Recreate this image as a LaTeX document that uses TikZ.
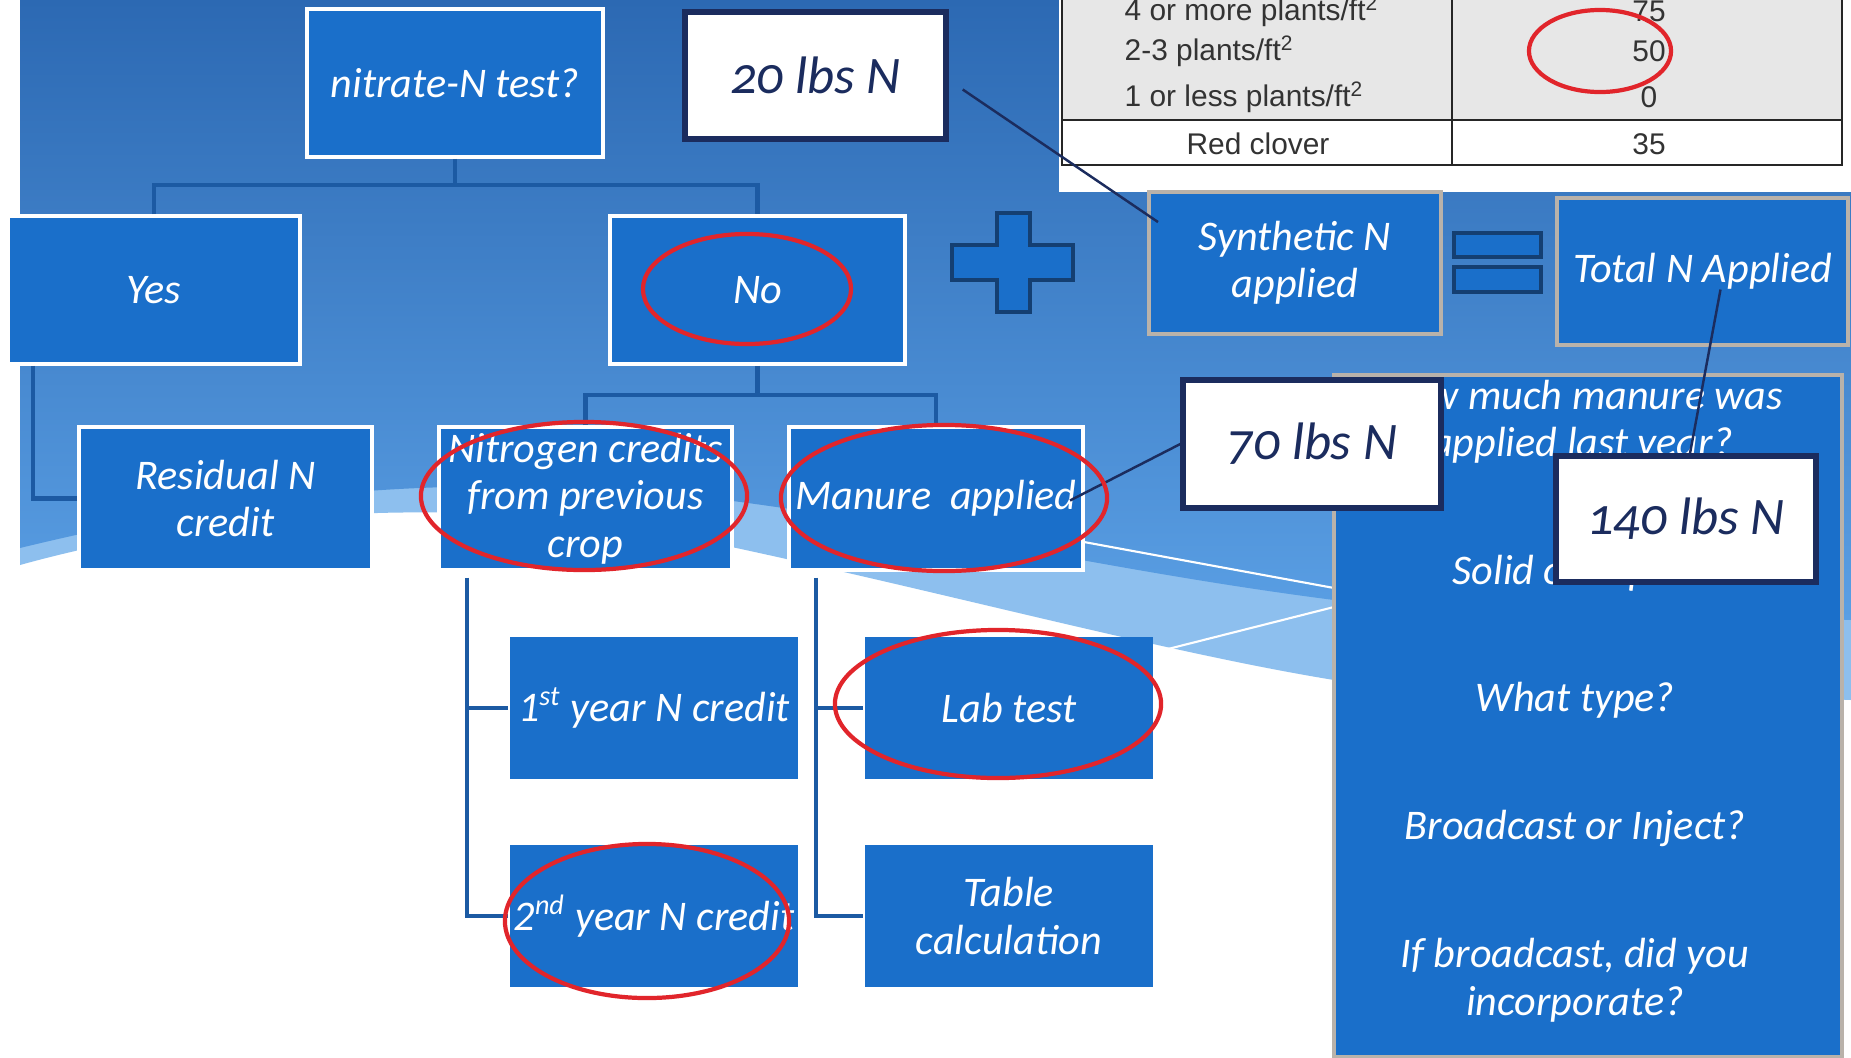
\documentclass[tikz,border=0pt]{standalone}
\usepackage{fontspec}
\setmainfont{Carlito}
\newfontfamily\lbsfont{Carlito}[Numbers=OldStyle]
\newfontfamily\tabfont{Liberation Sans}
\usetikzlibrary{calc}
\definecolor{skytop}{HTML}{2C69B3}
\definecolor{skybot}{HTML}{5A9FE4}
\definecolor{swoosh}{HTML}{8DBFEE}
\definecolor{boxblue}{HTML}{1A6FCA}
\definecolor{linkblue}{HTML}{1C5AA3}
\definecolor{navy}{HTML}{1B2C5E}
\definecolor{ringred}{HTML}{E1252B}
\definecolor{taupe}{HTML}{B9B2AA}
\definecolor{tabgray}{HTML}{E7E7E7}

\begin{document}
\begin{tikzpicture}[x=0.01cm, y=-0.01cm,
    box/.style={rectangle, fill=boxblue, draw=white, line width=1.1pt, text=white, align=center, inner sep=0pt,
      font=\fontsize{12}{13.5}\selectfont\itshape},
    plain/.style={box, draw=none},
    greybox/.style={box, draw=taupe},
    lbs/.style={rectangle, fill=white, draw=navy, line width=1.5pt, text=navy, inner sep=0pt,
      font=\lbsfont\fontsize{15}{17}\selectfont\itshape},
    link/.style={draw=linkblue, line width=1.2pt},
    pointer/.style={draw=navy, line width=0.7pt},
    ring/.style={draw=ringred, line width=1.2pt},
    ask/.style={text=white, align=center, font=\fontsize{12}{13.5}\selectfont\itshape},
    cell/.style={text=black!80, inner sep=0pt, font=\tabfont\fontsize{8.5}{10}\selectfont},
    sign/.style={fill=boxblue, draw=linkblue!70!black, line width=1pt}]

    \useasboundingbox (0,0) rectangle (1851,1057);

    % slide background
    \fill[white] (0,0) rectangle (1851,1057);
    \fill[swoosh] (20,0) -- (1851,0) -- (1851,700) -- (1334,680) .. controls (1150,650) and (900,580) .. (650,530)
        .. controls (430,495) and (200,515) .. (20,565) -- cycle;
    \shade[top color=skytop, bottom color=skybot] (20,0) -- (1851,0) -- (1851,620) -- (1334,600)
        .. controls (1100,570) and (900,520) .. (700,497) .. controls (450,472) and (250,492) .. (20,548) -- cycle;
    \draw[white, line width=0.6pt] (1084,542) -- (1334,588);
    \draw[white, line width=0.6pt] (1164,650) -- (1334,607);

    % clover table
    \fill[white] (1059,0) rectangle (1851,192);
    \fill[tabgray] (1062,0) rectangle (1842,120);
    \draw[black!85, line width=0.7pt] (1062,0) -- (1062,165) -- (1842,165) -- (1842,0);
    \draw[black!85, line width=0.7pt] (1062,120) -- (1842,120);
    \draw[black!85, line width=0.7pt] (1452,0) -- (1452,165);
    \node[cell, anchor=west] (r1) at (1124,11) {4 or more plants/ft\textsuperscript{2}};
    \node[cell, anchor=west] (r2) at (1124,51) {2-3 plants/ft\textsuperscript{2}};
    \node[cell, anchor=west] (r3) at (1124,97) {1 or less plants/ft\textsuperscript{2}};
    \node[cell] (v1) at (1649,11) {75};
    \node[cell] (v2) at (1649,51) {50};
    \node[cell] (v3) at (1649,97) {0};
    \node[cell] (r4) at (1258,144) {Red clover};
    \node[cell] (v4) at (1649,144) {35};

    % decision tree
    \node[box, minimum width=2.96cm, minimum height=1.48cm] (q) at (455,83) {nitrate-N test?};
    \node[box, minimum width=2.92cm, minimum height=1.48cm] (yes) at (154,290) {Yes};
    \node[box, minimum width=2.95cm, minimum height=1.48cm] (no) at (757.5,290) {No};
    \node[box, minimum width=2.93cm, minimum height=1.43cm] (resid) at (225.5,498.5) {Residual N\\credit};
    \node[box, minimum width=2.93cm, minimum height=1.43cm] (prev) at (585.5,498.5) {Nitrogen credits\\from previous\\crop};
    \node[box, minimum width=2.94cm, minimum height=1.43cm] (manure) at (936,498.5) {Manure~ applied};
    \node[plain, minimum width=2.88cm, minimum height=1.42cm] (yr1) at (654,708) {1\textsuperscript{st} year N credit};
    \node[plain, minimum width=2.88cm, minimum height=1.42cm] (lab) at (1009,708) {Lab test};
    \node[plain, minimum width=2.88cm, minimum height=1.42cm] (yr2) at (654,916) {2\textsuperscript{nd} year N credit};
    \node[plain, minimum width=2.88cm, minimum height=1.42cm] (tabcalc) at (1009,916) {Table\\calculation};

    \coordinate (fork1) at (455,185);
    \coordinate (fork2) at (757.5,395);
    \draw[link] (q.south) -- (fork1);
    \draw[link] (yes.north) |- (fork1) -| (no.north);
    \draw[link] ([xshift=.27cm]yes.south west) |- (resid.west);
    \draw[link] (no.south) -- (fork2);
    \draw[link] (prev.north) |- (fork2) -| (manure.north);
    \draw[link] ([shift={(30,6)}]prev.south west) |- (yr1.west);
    \draw[link] ([shift={(30,6)}]prev.south west) |- (yr2.west);
    \draw[link] ([shift={(29,6)}]manure.south west) |- (lab.west);
    \draw[link] ([shift={(29,6)}]manure.south west) |- (tabcalc.west);

    % sum
    \draw[sign] (997,213) -- (1030,213) -- (1030,245) -- (1073,245) -- (1073,280) -- (1030,280) -- (1030,312)
        -- (997,312) -- (997,280) -- (952,280) -- (952,245) -- (997,245) -- cycle;
    \node[greybox, minimum width=2.92cm, minimum height=1.42cm] (synth) at (1295,263) {Synthetic N\\applied};
    \draw[sign] (1454,233) rectangle (1541,257);
    \draw[sign] (1454,267) rectangle (1541,292);
    \node[greybox, minimum width=2.91cm, minimum height=1.47cm] (total) at (1702.5,271.5) {Total N Applied};

    % manure questions
    \node[greybox, minimum width=5.08cm, minimum height=6.82cm] (panel) at (1588,716) {};
    \node[ask] (ask1) at (1582,422) {How much manure was\\applied last year?};
    \node[ask] (ask2) at (1582,573) {Solid or Liquid?};
    \node[ask] (ask3) at (1575,700) {What type?};
    \node[ask] (ask4) at (1575,828) {Broadcast or Inject?};
    \node[ask] (ask5) at (1575,980) {If broadcast, did you\\incorporate?};

    % amounts
    \node[lbs, minimum width=2.61cm, minimum height=1.27cm] (lbs20) at (815.5,75.5) {20 lbs N};
    \node[lbs, minimum width=2.58cm, minimum height=1.28cm] (lbs70) at (1312,444) {70 lbs N};
    \node[lbs, minimum width=2.60cm, minimum height=1.26cm] (lbs140) at (1686,519) {140 lbs N};
    \draw[pointer] ([shift={(14,14)}]lbs20.east) -- ([shift={(11,32)}]synth.north west);
    \draw[pointer] ([shift={(-15,2)}]manure.east) -- (lbs70.west);
    \draw[pointer] ([shift={(18,18)}]total.center) -- ([xshift=.04cm]lbs140.north);

    % highlights
    \draw[ring] (747,289) ellipse [x radius=1.04cm, y radius=.55cm];
    \draw[ring] (584,496) ellipse [x radius=1.63cm, y radius=.74cm];
    \draw[ring] (944,498) ellipse [x radius=1.63cm, y radius=.73cm];
    \draw[ring] (998,704) ellipse [x radius=1.63cm, y radius=.74cm];
    \draw[ring] (647,921) ellipse [x radius=1.42cm, y radius=.77cm];
    \draw[ring] (1600,51) ellipse [x radius=.71cm, y radius=.41cm];

\end{tikzpicture}
\end{document}
